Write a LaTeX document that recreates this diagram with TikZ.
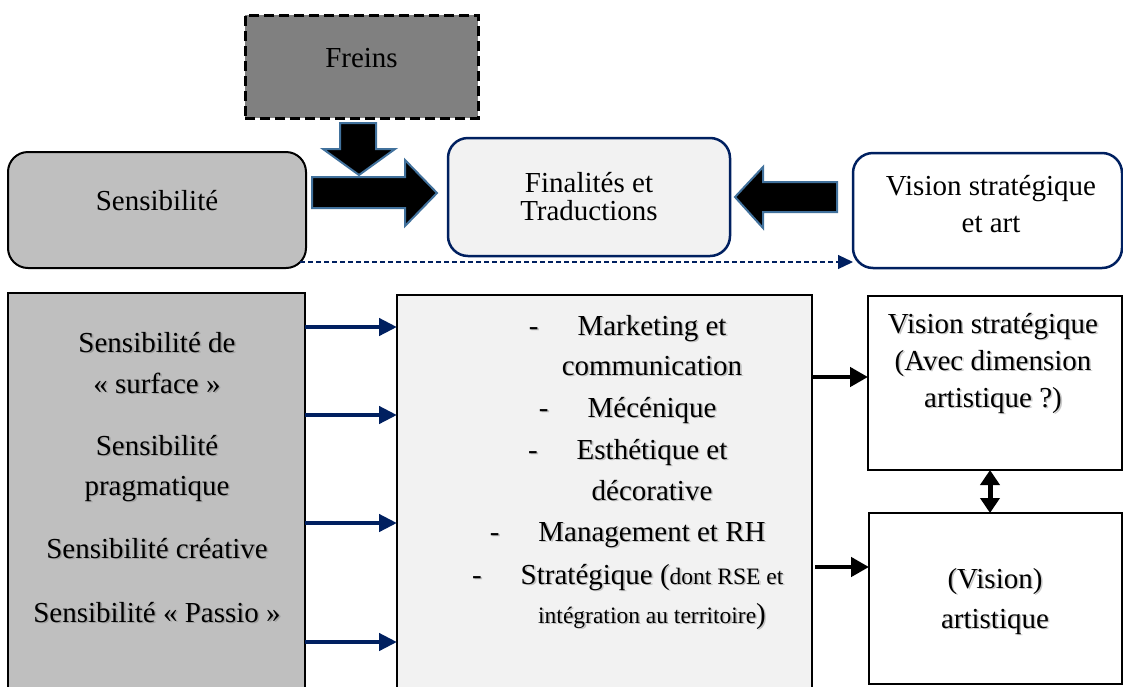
\documentclass[tikz,border=0pt]{standalone}
\usepackage{fontspec}
\setmainfont{Liberation Serif}
\usetikzlibrary{arrows.meta,calc}
\definecolor{navy}{RGB}{0,32,96}
\definecolor{steel}{RGB}{65,113,156}
\definecolor{midgray}{RGB}{128,128,128}
\definecolor{ltgray}{RGB}{191,191,191}
\definecolor{vltgray}{RGB}{242,242,242}
\tikzset{
  box/.style={draw, rectangle, inner sep=0pt, outer sep=0pt},
  rbox/.style={box, rounded corners=20pt},
  txt/.style={font=\fontsize{29}{34}\selectfont, anchor=base, inner sep=0pt, outer sep=0pt},
  shtxt/.style={txt, text=black!60, opacity=0.35},
  dashmark/.style={txt, anchor=base east},
  blockarrow/.style={fill=black, draw=steel, line width=2pt, line join=miter},
  bluearr/.style={draw=navy, line width=4.3pt, -{Triangle[length=18pt,width=17pt]}},
  blackarr/.style={draw=black, line width=4.5pt, -{Triangle[length=18pt,width=19pt]}},
  dblarr/.style={draw=black, line width=5pt, {Triangle[length=15pt,width=19pt]}-{Triangle[length=15pt,width=19pt]}},
  dasharr/.style={draw=navy, line width=1.2pt, dash pattern=on 5pt off 3pt, -{Triangle[length=15pt,width=14pt]}}
}
\newcommand{\smalltxt}[1]{{\fontsize{23.5}{28}\selectfont #1}}
% shadowed text line: name, position, text
\newcommand{\shline}[3]{%
  \node[shtxt] (#1-sh) at ($(#2)+(1.6,1.6)$) {#3};
  \node[txt] (#1) at (#2) {#3};}
\begin{document}
\begin{tikzpicture}[x=1pt,y=-1pt]
\useasboundingbox (0,0) rectangle (1123,686);
\clip (0,0) rectangle (1123,686);
\fill[white] (0,0) rectangle (1123,686);

% top row
\node[box, fill=midgray, line width=3pt, dash pattern=on 10pt off 5pt, minimum width=233, minimum height=103] (freins) at (361.5,66.5) {};
\node[rbox, fill=ltgray, line width=2pt, minimum width=298, minimum height=116] (sens) at (157,210) {};
\node[rbox, fill=vltgray, draw=navy, line width=2.5pt, minimum width=282, minimum height=118] (fin) at (589,197) {};
\node[rbox, fill=white, draw=navy, line width=2.5pt, minimum width=269, minimum height=115] (vis) at (987.5,210.5) {};

\node[txt] (tfreins) at (361.5,67) {Freins};
\node[txt] (tsens) at (157,210) {Sensibilité};
\node[txt] (tfin1) at (589,192) {Finalités et};
\node[txt] (tfin2) at (589,220) {Traductions};
\node[txt] (tvis1) at (991,195) {Vision stratégique};
\node[txt] (tvis2) at (991,232) {et art};

% block arrows
\draw[blockarrow] (340,123) -- (376,123) -- (376,149) -- (395,149) -- (359,175) -- (323,149) -- (340,149) -- cycle;
\draw[blockarrow] (312,177) -- (405,177) -- (405,160) -- (437,193) -- (405,226) -- (405,208) -- (312,208) -- cycle;
\draw[blockarrow] (837,182) -- (763,182) -- (763,167) -- (735,197) -- (763,228) -- (763,212) -- (837,212) -- cycle;

% dashed connector
\coordinate (dstart) at (300,262);
\draw[dasharr] (dstart) -- (vis.west |- dstart);

% bottom row
\node[box, fill=ltgray, line width=2pt, minimum width=297, minimum height=397] (lb) at (156.5,491.5) {};
\node[box, fill=vltgray, line width=2pt, minimum width=415, minimum height=395] (mb) at (604.5,492.5) {};
\node[box, fill=white, line width=2.5pt, minimum width=254, minimum height=174] (rt) at (995,383) {};
\node[box, fill=white, line width=2.5pt, minimum width=253, minimum height=171] (rb) at (995.5,598.5) {};

% left texts
\shline{l1}{157,352}{Sensibilité de}
\shline{l2}{157,393}{« surface »}
\shline{l3}{157,455}{Sensibilité}
\shline{l4}{157,495}{pragmatique}
\shline{l5}{157,558}{Sensibilité créative}
\shline{l6}{157,622}{Sensibilité « Passio »}

% middle texts
\shline{m1}{652,335}{Marketing et}
\shline{m2}{652,375}{communication}
\shline{m3}{652,417}{Mécénique}
\shline{m4}{652,459}{Esthétique et}
\shline{m5}{652,500}{décorative}
\shline{m6}{652,541}{Management et RH}
\shline{m7}{652,584}{Stratégique (\smalltxt{dont RSE et}}
\shline{m8}{652,623}{\smalltxt{intégration au territoire})}
\foreach \m in {m1,m3,m4,m6,m7}{
  \node[shtxt, anchor=base east] (\m-dsh) at ([xshift=-37.4pt,yshift=-1.6pt]\m.base west) {-};
  \node[dashmark] (\m-d) at ([xshift=-39pt]\m.base west) {-};
}

% right texts
\shline{r1}{993,333}{Vision stratégique}
\shline{r2}{993,370}{(Avec dimension}
\shline{r3}{993,407}{artistique ?)}
\shline{r4}{995,588}{(Vision)}
\shline{r5}{995,628}{artistique}

% connectors
\foreach \yy in {327,415,523,642}
  \draw[bluearr] (lb.east |- 0,\yy) -- (mb.west |- 0,\yy);
\draw[blackarr] (mb.east |- 0,377) -- (rt.west |- 0,377);
\draw[blackarr] ([xshift=3pt]mb.east |- 0,567) -- (rb.west |- 0,567);
\draw[dblarr] (rt.south -| 990,0) -- (rb.north -| 990,0);
\end{tikzpicture}
\end{document}
